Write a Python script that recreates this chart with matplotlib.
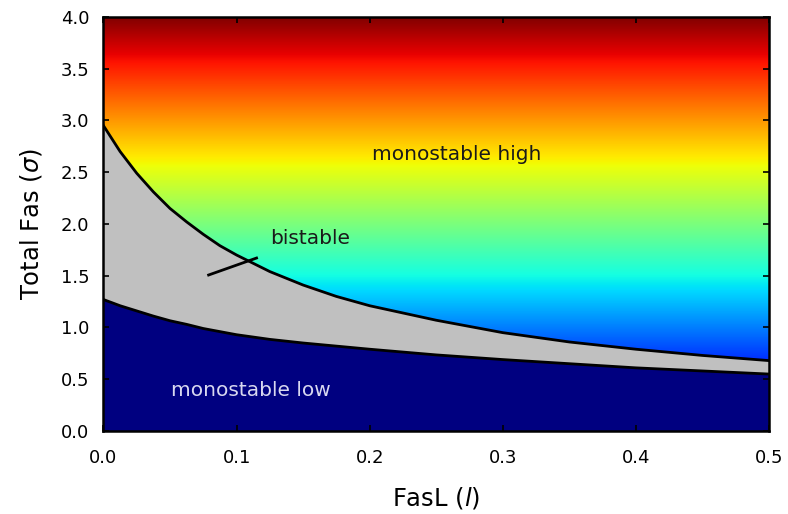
import numpy as np
import matplotlib
matplotlib.use("Agg")
import matplotlib.pyplot as plt

# boundary curves
fasl = [0.0, 0.0125, 0.025, 0.0375, 0.05, 0.0625, 0.075, 0.0875, 0.1, 0.125, 0.15,
        0.175, 0.2, 0.25, 0.3, 0.35, 0.4, 0.45, 0.5]
upper = [2.95, 2.70, 2.49, 2.31, 2.15, 2.02, 1.90, 1.79, 1.70, 1.54, 1.41,
         1.30, 1.21, 1.07, 0.95, 0.86, 0.79, 0.73, 0.68]
lower = [1.27, 1.21, 1.16, 1.11, 1.065, 1.03, 0.99, 0.96, 0.93, 0.885, 0.85,
         0.82, 0.79, 0.735, 0.69, 0.65, 0.61, 0.58, 0.55]

XMAX, YMAX = 0.5, 4.0

fig = plt.figure(figsize=(7.88, 5.14), dpi=100)
ax = fig.add_axes([0.1313, 0.1615, 0.8446, 0.8055])

# vertical jet gradient (colour = total Fas)
grad = np.linspace(0, YMAX, 512).reshape(-1, 1)
ax.imshow(grad, cmap="jet", vmin=0, vmax=YMAX, origin="lower", aspect="auto",
          extent=[0, XMAX, 0, YMAX], interpolation="bilinear", zorder=0)
ax.fill_between(fasl, lower, upper, color="#c0c0c0", lw=0, zorder=1)
ax.fill_between(fasl, 0, lower, color=plt.cm.jet(0.0), lw=0, zorder=1)
ax.plot(fasl, upper, color="k", lw=2, zorder=2, solid_joinstyle="round")
ax.plot(fasl, lower, color="k", lw=2, zorder=2, solid_joinstyle="round")

ax.plot([0.079, 0.115], [1.507, 1.671], color="k", lw=2, zorder=3)
ax.text(0.125, 1.86, "bistable", fontsize=14.5, color="#1a1a1a", va="center", ha="left")
ax.text(0.265, 2.67, "monostable high", fontsize=14.5, color="#1a1a1a", va="center", ha="center")
ax.text(0.1105, 0.39, "monostable low", fontsize=14.5, color="#d8d8f0", va="center", ha="center")

ax.set_xlim(0, XMAX)
ax.set_ylim(0, YMAX)
ax.set_xticks(np.arange(0, 0.51, 0.1))
ax.set_yticks(np.arange(0, 4.01, 0.5))
ax.xaxis.set_major_formatter(matplotlib.ticker.FormatStrFormatter("%.1f"))
ax.yaxis.set_major_formatter(matplotlib.ticker.FormatStrFormatter("%.1f"))
ax.tick_params(direction="in", length=4.5, width=1.2, top=True, right=True, labelsize=13)
ax.tick_params(axis="x", pad=13)
ax.tick_params(axis="y", pad=10)
for s in ax.spines.values():
    s.set_linewidth(1.8)
ax.set_xlabel("FasL ($l$)", fontsize=17.5, labelpad=13)
ax.set_ylabel("Total Fas ($\\sigma$)", fontsize=17.5, labelpad=12)

fig.savefig("out.png", dpi=100)
